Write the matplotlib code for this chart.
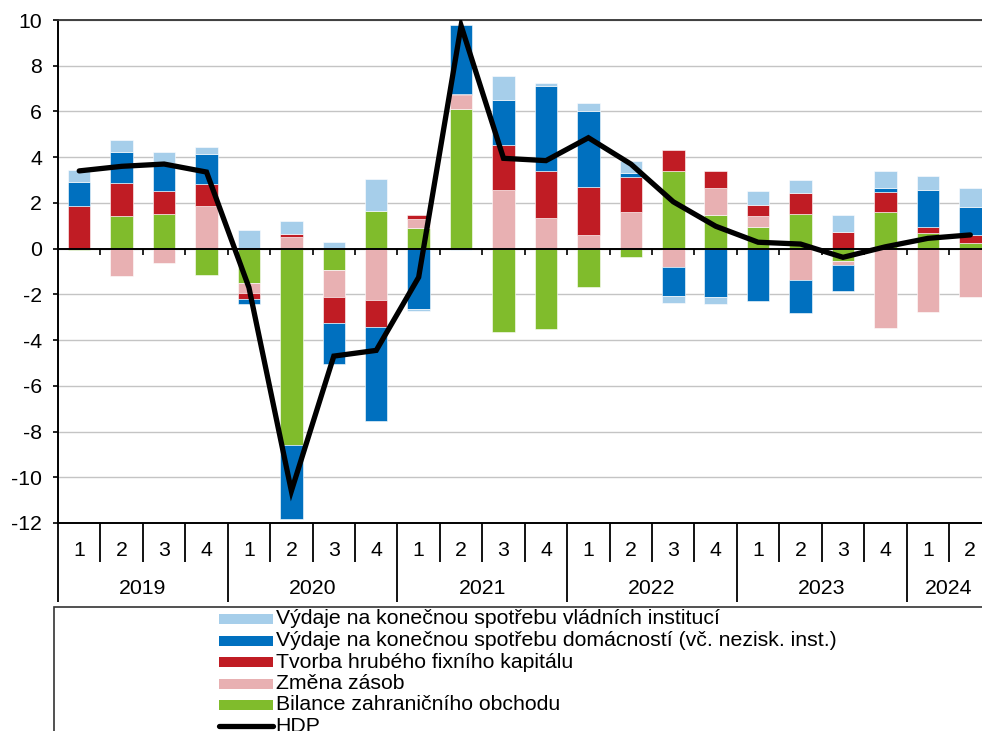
import matplotlib
matplotlib.use('Agg')
import matplotlib.pyplot as plt
from matplotlib.patches import Rectangle
from matplotlib.lines import Line2D
import numpy as np

plt.rcParams['font.family'] = ['Liberation Sans', 'DejaVu Sans']
plt.rcParams['axes.unicode_minus'] = False

# ---------------- data ----------------
years = ['2019', '2020', '2021', '2022', '2023', '2024']
quarters_per_year = [4, 4, 4, 4, 4, 2]
quarter_labels = ['1', '2', '3', '4'] * 5 + ['1', '2']

gov = [0.53, 0.54, 0.50, 0.29, 0.83, 0.59, 0.31, 1.42, -0.10, -0.05, 1.01,
       0.11, 0.38, 0.55, -0.32, -0.30, 0.64, 0.58, 0.72, 0.75, 0.63, 0.85]
hh = [1.05, 1.33, 1.20, 1.33, -0.22, -3.25, -1.80, -4.10, -2.64, 3.03, 2.00,
      3.73, 3.30, 0.18, -1.24, -2.11, -2.31, -1.46, -1.11, 0.20, 1.59, 1.20]
gfcf = [1.85, 1.46, 1.02, 0.95, -0.26, 0.12, -1.11, -1.20, 0.15, 0.07, 1.95,
        2.04, 2.11, 1.50, 0.93, 0.74, 0.49, 0.89, 0.74, 0.84, 0.27, 0.36]
inv = [0.00, -1.20, -0.62, 1.88, -0.44, 0.50, -1.21, -2.23, 0.41, 0.59, 2.57,
       1.36, 0.60, 1.62, -0.82, 1.20, 0.45, -1.36, -0.18, -3.47, -2.79, -2.13]
trade = [-0.05, 1.43, 1.52, -1.14, -1.50, -8.58, -0.92, 1.63, 0.90, 6.11, -3.66,
         -3.52, -1.69, -0.38, 3.40, 1.46, 0.96, 1.53, -0.55, 1.62, 0.69, 0.25]
hdp = [3.40, 3.60, 3.70, 3.35, -1.70, -10.60, -4.70, -4.45, -1.25, 9.75, 3.95,
       3.85, 4.85, 3.70, 2.05, 0.98, 0.28, 0.20, -0.38, 0.08, 0.45, 0.60]

lab_gov = 'Výdaje na konečnou spotřebu vládních institucí'
lab_hh = 'Výdaje na konečnou spotřebu domácností (vč. nezisk. inst.)'
lab_gfcf = 'Tvorba hrubého fixního kapitálu'
lab_inv = 'Změna zásob'
lab_trade = 'Bilance zahraničního obchodu'
lab_hdp = 'HDP'

c_gov = '#A6CEEA'
c_hh = '#0070BF'
c_gfcf = '#C01C24'
c_inv = '#E8B0B2'
c_trade = '#80BC2C'

# ---------------- figure ----------------
W, H = 982, 731
FS = 15.3
fig = plt.figure(figsize=(W / 100, H / 100), dpi=100)
ax_left, ax_right, ax_top, ax_bottom = 58, 991.5, 20, 523
ax = fig.add_axes([ax_left / W, (H - ax_bottom) / H,
                   (ax_right - ax_left) / W, (ax_bottom - ax_top) / H])

n = len(hdp)
x = np.arange(n)
stack = [(trade, c_trade), (inv, c_inv), (gfcf, c_gfcf), (hh, c_hh), (gov, c_gov)]
pos = np.zeros(n)
neg = np.zeros(n)
for vals, col in stack:
    v = np.array(vals, dtype=float)
    b = np.where(v >= 0, pos, neg)
    ax.bar(x, v, width=0.53, bottom=b, color=col, edgecolor='white',
           linewidth=0.4, zorder=2)
    pos += np.where(v >= 0, v, 0)
    neg += np.where(v < 0, v, 0)

ax.plot(x, hdp, color='black', lw=3.8, zorder=5, solid_joinstyle='miter',
        solid_capstyle='round')

ax.set_xlim(-0.5, n - 0.5)
ax.set_ylim(-12, 10)
ax.set_yticks(np.arange(-12, 11, 2))
ax.set_xticks([])
ax.yaxis.grid(True, color='#C4C4C4', lw=1.0)
ax.set_axisbelow(True)
ax.tick_params(axis='y', length=3.6, width=1.2, pad=8, labelsize=FS,
               direction='out', color='black')
for s in ['left', 'bottom']:
    ax.spines[s].set_color('black')
    ax.spines[s].set_linewidth(1.4)
ax.spines['top'].set_color('#333333')
ax.spines['top'].set_linewidth(1.3)
ax.spines['right'].set_visible(False)

# zero axis with tick marks at category boundaries
ax.axhline(0, color='black', lw=1.4, zorder=3)
inner_bounds = np.arange(0.5, n - 0.5, 1)
ax.vlines(inner_bounds, -0.26, 0, color='black', lw=1.2, zorder=3)

# category table below the axes
trans = ax.get_xaxis_transform()
ph = ax_bottom - ax_top
def yf(py):
    return (ax_bottom - py) / ph

for i, q in enumerate(quarter_labels):
    ax.text(i, yf(550), q, transform=trans, ha='center', va='center',
            fontsize=FS)

starts = np.concatenate([[0], np.cumsum(quarters_per_year)[:-1]])
year_bounds = set((starts - 0.5).tolist())
for yr, st, cnt in zip(years, starts, quarters_per_year):
    ax.text(st + (cnt - 1) / 2, yf(588), yr, transform=trans, ha='center',
            va='center', fontsize=FS)

for b in np.arange(-0.5, n, 1):
    if b in year_bounds:
        y_end = yf(602)
    else:
        y_end = yf(562)
    ax.plot([b, b], [0, y_end], transform=trans, color='black', lw=1.3,
            clip_on=False, solid_capstyle='butt')

# legend box (manual, positioned in figure pixels)
fig.patches.append(Rectangle((54 / W, -0.5), 2, (H - 607) / H + 0.5,
                             transform=fig.transFigure, fill=False,
                             edgecolor='#333333', lw=1.2))
leg_items = [(c_gov, lab_gov), (c_hh, lab_hh), (c_gfcf, lab_gfcf),
             (c_inv, lab_inv), (c_trade, lab_trade)]
row_y = [619, 640.5, 662, 683.5, 705, 726]
hx0, hx1, tx = 219, 272.5, 275.5
for (col, lab), ry in zip(leg_items, row_y[:5]):
    fig.patches.append(Rectangle((hx0 / W, (H - ry - 5) / H), (hx1 - hx0) / W,
                                 10 / H, transform=fig.transFigure,
                                 facecolor=col, edgecolor='none'))
    fig.text(tx / W, (H - ry) / H, lab, ha='left', va='center', fontsize=FS)
ry = row_y[5]
fig.lines.append(Line2D([hx0 / W, hx1 / W], [(H - ry) / H, (H - ry) / H],
                        transform=fig.transFigure, color='black', lw=3.8,
                        solid_capstyle='round'))
fig.text(tx / W, (H - ry) / H, lab_hdp, ha='left', va='center', fontsize=FS)

fig.savefig('out.png', dpi=100)
